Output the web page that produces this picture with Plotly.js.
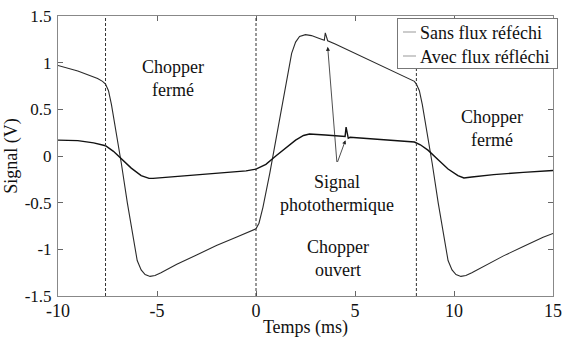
<!DOCTYPE html>
<html>
<head>
<meta charset="utf-8">
<script src="https://cdn.plot.ly/plotly-3.0.1.min.js"></script>
<style>html,body{margin:0;padding:0;background:#fff;}#chart{width:568px;height:338px;}</style>
</head>
<body>
<div id="chart"></div>
<script>
// Series names
const seriesNames = ["Sans flux réféchi", "Avec flux réfléchi"];

// Curve 1 (large swing)
const xBig = [-10, -9, -8, -7.75, -7.6, -7.45, -7.3, -7.1, -6.8, -6.5, -6.2, -6.0, -5.8, -5.6, -5.35, -5.1, -4.8, -4.0, -3.0, -2.0, -1.0, -0.1,
  0.0, 0.15, 0.35, 0.7, 1.1, 1.5, 1.8, 2.0, 2.2, 2.5, 2.8, 3.2, 3.45, 3.5, 3.56, 3.62, 4.0, 5.0, 6.0, 7.0, 7.8, 8.0,
  8.1, 8.25, 8.4, 8.6, 8.9, 9.2, 9.5, 9.7, 9.9, 10.1, 10.35, 10.6, 10.9, 11.5, 12.5, 13.5, 14.5, 15];
const yBig = [0.97, 0.91, 0.83, 0.80, 0.77, 0.70, 0.55, 0.30, -0.08, -0.50, -0.90, -1.12, -1.22, -1.27, -1.29, -1.28, -1.25, -1.16, -1.06, -0.96, -0.87, -0.79,
  -0.78, -0.72, -0.55, -0.18, 0.30, 0.78, 1.10, 1.22, 1.28, 1.30, 1.29, 1.26, 1.24, 1.32, 1.26, 1.235, 1.20, 1.10, 1.00, 0.90, 0.82, 0.80,
  0.77, 0.70, 0.55, 0.30, -0.08, -0.50, -0.90, -1.12, -1.22, -1.27, -1.29, -1.28, -1.25, -1.18, -1.07, -0.97, -0.87, -0.83];

// Curve 2 (small swing)
const xSmall = [-10, -9, -8.2, -7.6, -7.2, -6.8, -6.3, -5.8, -5.4, -5.2, -4.0, -2.0, -0.5, 0.0,
  0.5, 1.0, 1.5, 2.0, 2.4, 2.7, 3.5, 4.5, 4.55, 4.6, 4.66, 4.75, 6.0, 7.0, 8.0,
  8.3, 8.7, 9.2, 9.7, 10.2, 10.5, 10.9, 12.0, 13.5, 15];
const ySmall = [0.17, 0.165, 0.14, 0.11, 0.05, -0.03, -0.13, -0.21, -0.24, -0.24, -0.22, -0.19, -0.16, -0.14,
  -0.09, 0.0, 0.09, 0.17, 0.22, 0.235, 0.225, 0.21, 0.31, 0.25, 0.19, 0.20, 0.18, 0.165, 0.15,
  0.12, 0.06, -0.04, -0.14, -0.21, -0.235, -0.225, -0.20, -0.175, -0.155];

// Chopper switching instants (dashed lines)
const chopperEdges = [-7.6, 0, 8.1];

// Tick labels
const xTickVals = [-10, -5, 0, 5, 10, 15];
const xTickText = ["-10", "-5", "0", "5", "10", "15"];
const yTickVals = [-1.5, -1, -0.5, 0, 0.5, 1, 1.5];
const yTickText = ["-1.5", "-1", "-0.5", "0", "0.5", "1", "1.5"];

const FONT = "Liberation Serif";

const traces = [
  {x: xBig, y: yBig, mode: "lines", name: seriesNames[0], showlegend: false,
   line: {color: "#2a2a2a", width: 1.1}},
  {x: xSmall, y: ySmall, mode: "lines", name: seriesNames[1], showlegend: false,
   line: {color: "#111", width: 1.4}},
  {x: [null], y: [null], mode: "lines", name: seriesNames[0], line: {color: "#999", width: 1}},
  {x: [null], y: [null], mode: "lines", name: seriesNames[1], line: {color: "#999", width: 1}}
];

const shapes = chopperEdges.map(v => ({
  type: "line", xref: "x", yref: "paper", x0: v, x1: v, y0: 0, y1: 1,
  line: {color: "#333", width: 1, dash: "3px,2px"}
}));

const textAnn = (x, y, t) => ({x: x, y: y, xref: "x", yref: "y", text: t, showarrow: false,
  font: {family: FONT, size: 18, color: "#111"}});

const arrowAnn = (x, y, ax, ay) => ({x: x, y: y, ax: ax, ay: ay, xref: "x", yref: "y", axref: "x", ayref: "y",
  text: "", showarrow: true, arrowhead: 2, arrowsize: 1, arrowwidth: 0.8, arrowcolor: "#222", standoff: 0, startstandoff: 0});

const layout = {
  width: 568, height: 338,
  margin: {l: 58, r: 14, t: 16, b: 42},
  paper_bgcolor: "#fff", plot_bgcolor: "#fff",
  font: {family: FONT, size: 18, color: "#111"},
  xaxis: {range: [-10, 15], tickmode: "array", tickvals: xTickVals, ticktext: xTickText,
    showgrid: false, zeroline: false, showline: true, mirror: "ticks", linecolor: "#888", linewidth: 1,
    ticks: "inside", ticklen: 5, tickcolor: "#666", ticklabelstandoff: -2,
    tickfont: {family: FONT, size: 18, color: "#111"},
    title: {text: "Temps (ms)", font: {family: FONT, size: 18, color: "#111"}, standoff: 0}},
  yaxis: {range: [-1.5, 1.5], tickmode: "array", tickvals: yTickVals, ticktext: yTickText,
    showgrid: false, zeroline: false, showline: true, mirror: "ticks", linecolor: "#888", linewidth: 1,
    ticks: "inside", ticklen: 5, tickcolor: "#666", ticklabelstandoff: 2,
    tickfont: {family: FONT, size: 17, color: "#111"},
    title: {text: "Signal (V)", font: {family: FONT, size: 18, color: "#111"}, standoff: 2}},
  showlegend: true,
  legend: {x: 1.006, xanchor: "right", y: 0.993, yanchor: "top", bgcolor: "#fff",
    bordercolor: "#777", borderwidth: 1, itemwidth: 30, tracegroupgap: 0,
    font: {family: FONT, size: 18, color: "#111"}},
  shapes: shapes,
  annotations: [
    textAnn(-4.2, 0.83, "Chopper<br>fermé"),
    textAnn(11.9, 0.29, "Chopper<br>fermé"),
    textAnn(4.1, -0.40, "Signal<br>photothermique"),
    textAnn(4.15, -1.10, "Chopper<br>ouvert"),
    arrowAnn(3.62, 1.17, 4.09, -0.08),
    arrowAnn(4.52, 0.17, 4.09, -0.08)
  ]
};

Plotly.newPlot("chart", traces, layout, {displayModeBar: false, staticPlot: true}).then(gd => {
  // Compact the legend box to the reference's MATLAB-style proportions
  const leg = gd.querySelector("g.legend");
  if (!leg) return;
  const W = 160, H = 50, left = 397, top = 18;
  leg.setAttribute("transform", "translate(" + left + "," + top + ")");
  const bg = leg.querySelector("rect.bg");
  if (bg) { bg.setAttribute("width", W); bg.setAttribute("height", H); }
  leg.querySelectorAll("g.traces").forEach((g, i) => {
    g.setAttribute("transform", "translate(1," + (14 + 24 * i) + ")");
    g.querySelectorAll("g.legendlines path").forEach(p => p.setAttribute("d", "M5,0h13"));
    const t = g.querySelector("text.legendtext");
    if (t) t.setAttribute("x", 22);
  });
});
</script>
</body>
</html>
